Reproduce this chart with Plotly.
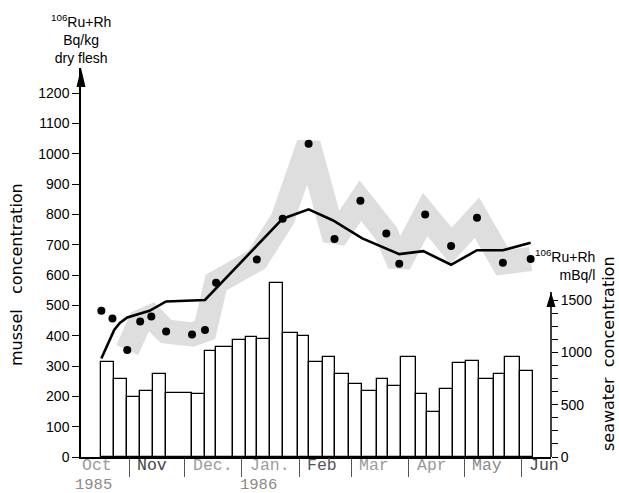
import plotly.graph_objects as go

# x = days since 1 October 1985
X_RANGE = [5, 259]

# seawater 106Ru+Rh (mBq/l), one bar per sampling interval
SEAWATER_START = [16, 23, 30, 37, 44, 51, 65, 72, 78, 87, 94, 100, 107, 114, 122, 128,
                  136, 142, 150, 157, 165, 171, 178, 186, 192, 199, 206, 213, 220, 228, 234, 242]
SEAWATER_END = SEAWATER_START[1:] + [249]
SEAWATER_MBQ_L = [910, 745, 573, 634, 793, 608, 599, 1013, 1051, 1115, 1150, 1131, 1660, 1182, 1156, 910,
                  952, 790, 694, 634, 742, 675, 952, 605, 427, 650, 901, 920, 742, 790, 952, 825]

# mussel 106Ru+Rh (Bq/kg dry flesh), measured points
MUSSEL_DAYS = [16, 22, 30, 37, 43, 51, 65, 72, 78, 100, 114, 128, 142, 156, 170, 177, 191, 205, 219, 233, 248]
MUSSEL_BQ_KG = [482, 457, 353, 447, 463, 414, 404, 419, 575, 651, 786, 1033, 719, 845, 737, 637, 800, 696, 789, 641, 653]

# model curve (Bq/kg dry flesh)
MODEL_DAYS = [16, 20, 23, 26, 30, 42, 51, 72, 114, 128, 141, 157, 177, 190, 205, 219, 233, 248]
MODEL_BQ_KG = [325, 380, 420, 442, 460, 482, 513, 518, 786, 817, 781, 721, 669, 679, 634, 682, 682, 707]

# month axis
MONTH_START_DAYS = [0, 31, 61, 92, 123, 151, 182, 212, 243]
MONTH_LABELS = ["Oct", "Nov", "Dec.", "Jan.", "Feb", "Mar", "Apr", "May", "Jun"]
YEAR_LABELS = ["1985", "1986"]
YEAR_START_DAYS = [0, 92]

LEFT_TICKS = list(range(0, 1201, 100))
RIGHT_TICKS = list(range(0, 1501, 125))
RIGHT_LABELED = [0, 500, 1000, 1500]

LEFT_TOP = 1283     # mussel axis top (arrow tip)
RIGHT_TOP = 3717    # seawater axis top of plot area
RIGHT_ARROW = 1576  # seawater axis arrow tip

fig = go.Figure()

centers = [(a + b) / 2 for a, b in zip(SEAWATER_START, SEAWATER_END)]
widths = [b - a for a, b in zip(SEAWATER_START, SEAWATER_END)]
fig.add_trace(go.Bar(x=centers, y=SEAWATER_MBQ_L, width=widths, yaxis="y",
                     marker=dict(color="white", line=dict(color="black", width=1.3)),
                     showlegend=False))

fig.add_trace(go.Scatter(x=MUSSEL_DAYS[2:], y=MUSSEL_BQ_KG[2:], yaxis="y2", mode="lines",
                         line=dict(color="rgb(222,222,222)", width=24), showlegend=False))
fig.add_trace(go.Scatter(x=MODEL_DAYS, y=MODEL_BQ_KG, yaxis="y2", mode="lines",
                         line=dict(color="black", width=2.6), showlegend=False))
fig.add_trace(go.Scatter(x=MUSSEL_DAYS, y=MUSSEL_BQ_KG, yaxis="y2", mode="markers",
                         marker=dict(color="black", size=8), showlegend=False))

fig.update_layout(
    width=619, height=493,
    margin=dict(l=81, r=68, t=68, b=36),
    paper_bgcolor="white", plot_bgcolor="white",
    font=dict(family="Liberation Sans, Arial", size=14, color="black"),
    bargap=0,
    xaxis=dict(range=X_RANGE, showgrid=False, zeroline=False, showline=True,
               linecolor="black", linewidth=1.5, tickvals=MONTH_START_DAYS[1:],
               ticks="outside", ticklen=18, tickwidth=1.3, tickcolor="#555",
               showticklabels=False, anchor="y"),
    yaxis=dict(range=[0, RIGHT_TOP], side="right", showgrid=False, zeroline=False,
               showline=False, tickvals=RIGHT_TICKS,
               ticktext=[str(v) if v in RIGHT_LABELED else " " for v in RIGHT_TICKS],
               ticks="outside", ticklen=6, tickwidth=1.3, tickcolor="black"),
    yaxis2=dict(range=[0, LEFT_TOP], side="left", overlaying="y", showgrid=False,
                zeroline=False, showline=True, linecolor="black", linewidth=1.5,
                tickvals=LEFT_TICKS, ticks="outside", ticklen=7, tickwidth=1.3,
                tickcolor="black", anchor="x"),
)

shapes = [
    dict(type="line", xref="paper", yref="y", x0=1, x1=1, y0=0, y1=RIGHT_ARROW,
         line=dict(color="black", width=1.5)),
    dict(type="path", xref="paper", yref="y", xsizemode="pixel", ysizemode="pixel",
         xanchor=1, yanchor=RIGHT_ARROW, path="M -4.5,-15 L 0,0 L 4.5,-15 Z",
         fillcolor="black", line=dict(width=0)),
    dict(type="path", xref="paper", yref="paper", xsizemode="pixel", ysizemode="pixel",
         xanchor=0, yanchor=1, path="M -4.5,-19 L 0,0 L 4.5,-19 Z",
         fillcolor="black", line=dict(width=0)),
]
fig.update_layout(shapes=shapes)

month_colors = ["#9a9a9a", "#444", "#9a9a9a", "#9a9a9a", "#555", "#9a9a9a", "#9a9a9a", "#8a8a8a", "#444"]
ann = []
for d, lab, c in zip(MONTH_START_DAYS, MONTH_LABELS, month_colors):
    x = max(d, X_RANGE[0])
    ann.append(dict(x=x, y=0, xref="x", yref="paper", text=lab, showarrow=False, borderpad=0,
                    xanchor="left", yanchor="middle", xshift=0 if d < X_RANGE[0] else 7,
                    yshift=-8, font=dict(family="Liberation Mono, Courier New", size=16.5, color=c)))
for d, lab in zip(YEAR_START_DAYS, YEAR_LABELS):
    x = max(d, X_RANGE[0])
    ann.append(dict(x=x, y=0, xref="x", yref="paper", text=lab, showarrow=False, borderpad=0,
                    xanchor="left", yanchor="middle", xshift=-7 if d < X_RANGE[0] else -3,
                    yshift=-28, font=dict(family="Liberation Mono, Courier New", size=15.5, color="#8a8a8a")))

ann.append(dict(x=0, y=1, xref="paper", yref="paper", yanchor="middle", xanchor="center",
                yshift=29, showarrow=False, align="center",
                text="<sup>106</sup>Ru+Rh<br>Bq/kg<br>dry flesh", font=dict(size=14)))
ann.append(dict(x=(597 - 81) / 470, y=(457 - 265) / 389, xref="paper", yref="paper",
                xanchor="right", yanchor="middle", showarrow=False, align="right",
                text="<sup>106</sup>Ru+Rh<br>mBq/l", font=dict(size=14)))
ann.append(dict(x=(16 - 81) / 470, y=(457 - 275) / 389, xref="paper", yref="paper",
                xanchor="center", yanchor="middle", showarrow=False, textangle=-90,
                text="mussel   concentration", font=dict(family="DejaVu Sans", size=16)))
ann.append(dict(x=(608 - 81) / 470, y=(457 - 354) / 389, xref="paper", yref="paper",
                xanchor="center", yanchor="middle", showarrow=False, textangle=-90,
                text="seawater  concentration", font=dict(family="DejaVu Sans", size=16)))
fig.update_layout(annotations=ann)

fig.write_html("out.html", config={"displayModeBar": False},
               post_script="document.body.style.margin='0';")
